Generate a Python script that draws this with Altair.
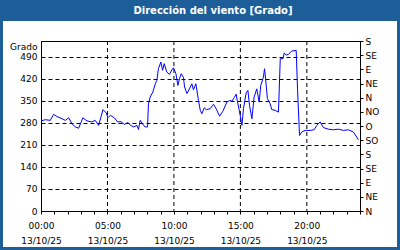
import altair as alt
import pandas as pd

# ---- data ----
times = ["00:00","00:19","00:42","00:57","01:12","01:35","01:50","02:05","02:20","02:35",
         "02:50","03:09","03:28","03:50","04:05","04:20","04:40","04:55","05:02","05:13",
         "05:31","05:46","06:01","06:16","06:32","06:45","06:58","07:13","07:20","07:28",
         "07:38","07:50","08:01","08:05","08:13","08:25","08:36","08:43","08:50","09:01",
         "09:09","09:16","09:28","09:40","09:51","09:58","10:09","10:18","10:25","10:33",
         "10:43","10:48","10:59","11:10","11:21","11:28","11:39","11:51","11:59","12:06",
         "12:17","12:26","12:44","12:59","13:14","13:26","13:41","13:59","14:11","14:22",
         "14:32","14:41","14:47","14:55","15:07","15:14","15:26","15:34","15:41","15:52",
         "16:02","16:14","16:25","16:32","16:44","16:49","16:56","17:02","17:14","17:22",
         "17:37","17:52","18:00","18:12","18:18","18:27","18:37","18:52","19:12","19:18",
         "19:27","19:37","19:52","20:15","20:33","20:45","21:00","21:15","21:37","22:00",
         "22:22","22:45","23:08","23:30","23:45","23:53"]
values = [286,290,288,307,300,293,288,296,277,267,
          263,296,286,283,288,272,322,311,296,304,
          296,283,284,275,281,272,267,272,259,288,
          277,267,267,340,362,378,404,415,452,473,
          447,468,441,434,449,455,436,399,420,436,
          425,394,373,388,404,385,404,351,320,309,
          328,322,325,339,320,301,317,346,351,349,
          360,371,346,320,272,325,375,383,336,293,
          362,388,346,399,425,452,404,357,341,322,
          320,314,484,484,502,495,498,508,510,388,
          240,251,256,256,258,272,283,265,260,258,
          260,256,258,251,235,226]

grid_hours = [5, 10, 15, 20]
hour_ticks = list(range(25))
deg_ticks = [0, 70, 140, 210, 280, 350, 420, 490]
dir_ticks = [0, 45, 90, 135, 180, 225, 270, 315, 360, 405, 450, 495, 540]
dir_labels = ["N", "NE", "E", "SE", "S", "SO", "O", "NO", "N", "NE", "E", "SE", "S"]
title_text = "Dirección del viento [Grado]"
date_label = "13/10/25"
y_title = "Grado"

df = pd.DataFrame({"time": times, "value": values})
df["h"] = [int(t[:2]) + int(t[3:]) / 60 for t in times]

W, H = 319, 170
FONT = "DejaVu Sans"
BLUE = "#1e5e98"
DASH = [4, 3]

x_scale = alt.Scale(domain=[0, 24], nice=False, zero=False)
y_scale = alt.Scale(domain=[0, 540], nice=False)

x_label_expr = (
    "(datum.value % 5 == 0 && datum.value < 24) ? "
    "[(datum.value < 10 ? '0' : '') + datum.value + ':00', '" + date_label + "'] : ''"
)
dir_expr = "[" + ",".join("'" + d + "'" for d in dir_labels) + "][round(datum.value / 45)]"

x_axis = alt.Axis(
    values=hour_ticks, labelExpr=x_label_expr, title=None, grid=False,
    tickSize=3, tickColor="black", domainColor="black", labelPadding=7,
    labelLineHeight=15.5, labelOverlap=False, labelFlush=False,
    labelFont=FONT, labelFontSize=9, labelColor="black")

band = alt.Chart(alt.Data(values=[{"k": 1}])).mark_rect(color=BLUE).encode(
    x=alt.value(-41), x2=alt.value(W + 40), y=alt.value(-41), y2=alt.value(-20)
)
frame = alt.Chart(alt.Data(values=[{"k": 1}])).mark_rect(
    fillOpacity=0, stroke=BLUE, strokeWidth=3
).encode(
    x=alt.value(-39.5), x2=alt.value(W + 38.5), y=alt.value(-39.5), y2=alt.value(H + 37.5)
)
title = alt.Chart(alt.Data(values=[{"t": title_text}])).mark_text(
    font=FONT, fontSize=10, fontWeight="bold", color="white", align="center", baseline="middle"
).encode(x=alt.value(172), y=alt.value(-30), text="t:N")

vgrid = alt.Chart(pd.DataFrame({"h": grid_hours})).mark_rule(
    color="black", strokeWidth=1, strokeDash=DASH
).encode(x=alt.X("h:Q", scale=x_scale, axis=x_axis))

line = alt.Chart(df).mark_line(color="#0000ff", strokeWidth=1).encode(
    x=alt.X("h:Q", scale=x_scale, axis=x_axis),
    y=alt.Y("value:Q", scale=y_scale, axis=alt.Axis(
        values=deg_ticks, grid=True, gridDash=DASH, gridColor="black", gridOpacity=1,
        tickSize=0, domainColor="black", labelPadding=4, labelFont=FONT,
        labelFontSize=9, labelColor="black", labelBaseline="middle",
        title=y_title, titleAngle=0, titleAlign="right", titleBaseline="middle",
        titleX=-4, titleY=5, titleFont=FONT, titleFontSize=9,
        titleFontWeight="normal", titleColor="black")),
)

right = alt.Chart(df).mark_line(opacity=0).encode(
    x=alt.X("h:Q", scale=x_scale, axis=x_axis),
    y=alt.Y("value:Q", scale=y_scale, axis=alt.Axis(
        orient="right", values=dir_ticks, labelExpr=dir_expr, grid=False,
        tickSize=3, tickColor="black", domainColor="black", labelPadding=2,
        labelFont=FONT, labelFontSize=9, labelColor="black", labelOverlap=False,
        labelFlush=False, labelBaseline="middle", title=None)),
)

chart = alt.layer(band, frame, vgrid, line, right, title).resolve_axis(
    y="independent"
).properties(
    width=W, height=H,
    autosize=alt.AutoSizeParams(type="none"),
    padding={"left": 41, "top": 41, "right": 40, "bottom": 39},
    background="white",
).configure_view(stroke="black", strokeWidth=1)

chart.save("out.html", embed_options={"renderer": "svg", "actions": False})
